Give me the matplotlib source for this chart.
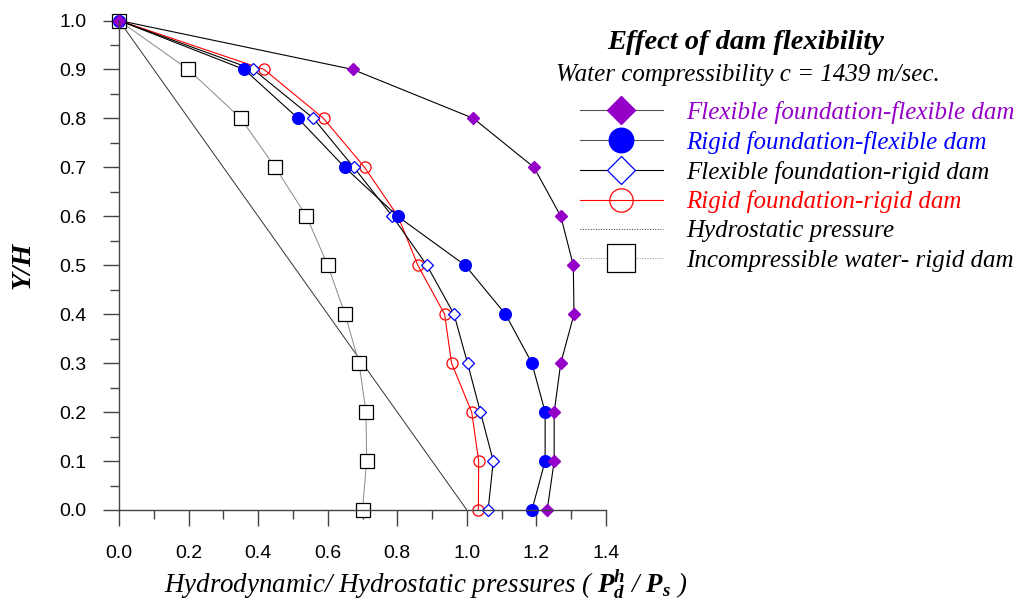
import matplotlib
matplotlib.use('Agg')
import matplotlib.pyplot as plt
from matplotlib.ticker import MultipleLocator

plt.rcParams['mathtext.fontset'] = 'custom'
plt.rcParams['mathtext.it'] = 'Liberation Serif:italic'
plt.rcParams['mathtext.bf'] = 'Liberation Serif:bold:italic'
plt.rcParams['mathtext.rm'] = 'Liberation Serif:italic'

# Y/H levels
y = [1.0, 0.9, 0.8, 0.7, 0.6, 0.5, 0.4, 0.3, 0.2, 0.1, 0.0]

flex_flex = [0.0, 0.672, 1.019, 1.193, 1.270, 1.306, 1.308, 1.270, 1.251, 1.251, 1.231]
rigid_flex = [0.0, 0.360, 0.515, 0.649, 0.801, 0.995, 1.111, 1.187, 1.225, 1.225, 1.187]
flex_rigid = [0.0, 0.386, 0.559, 0.675, 0.786, 0.885, 0.963, 1.002, 1.039, 1.076, 1.061]
rigid_rigid = [0.0, 0.417, 0.588, 0.706, 0.802, 0.859, 0.936, 0.956, 1.014, 1.034, 1.033]
incompressible = [0.0, 0.199, 0.350, 0.449, 0.539, 0.600, 0.650, 0.690, 0.710, 0.712, 0.700]
hydro_x = [0.0, 1.0]
hydro_y = [1.0, 0.0]

purple = '#9400C8'

fig = plt.figure(figsize=(10.29, 6.11), dpi=100)
ax = fig.add_axes([119/1029, 1-510/611, (606-119)/1029, (510-20.5)/611])

l5, = ax.plot(hydro_x, hydro_y, color='#333333', lw=0.7, clip_on=False,
              label='Hydrostatic pressure')
l6, = ax.plot(incompressible, y, color='#888888', lw=0.7, marker='s', ms=9.6,
              mfc='white', mec='black', mew=0.9, clip_on=False,
              label='Incompressible water- rigid dam')
l4, = ax.plot(rigid_rigid, y, color='red', lw=0.8, marker='o', ms=8.0,
              mfc='none', mec='red', mew=0.9, clip_on=False,
              label='Rigid foundation-rigid dam')
l3, = ax.plot(flex_rigid, y, color='black', lw=0.8, marker='D', ms=6.6,
              mfc='white', mec='blue', mew=0.9, clip_on=False,
              label='Flexible foundation-rigid dam')
l2, = ax.plot(rigid_flex, y, color='black', lw=0.8, marker='o', ms=8.4,
              mfc='blue', mec='blue', clip_on=False,
              label='Rigid foundation-flexible dam')
l1, = ax.plot(flex_flex, y, color='black', lw=0.8, marker='D', ms=6.6,
              mfc=purple, mec=purple, clip_on=False,
              label='Flexible foundation-flexible dam')

ax.set_xlim(0, 1.4)
ax.set_ylim(0, 1.0)
ax.spines['top'].set_visible(False)
ax.spines['right'].set_visible(False)
for s in ['left', 'bottom']:
    ax.spines[s].set_color('#444444')
    ax.spines[s].set_linewidth(1.0)
ax.xaxis.set_major_locator(MultipleLocator(0.2))
ax.xaxis.set_minor_locator(MultipleLocator(0.1))
ax.yaxis.set_major_locator(MultipleLocator(0.1))
ax.yaxis.set_minor_locator(MultipleLocator(0.05))
ax.tick_params(which='major', direction='out', length=11.5, width=1.0, color='#444444',
               labelsize=14, pad=14)
ax.tick_params(which='minor', direction='out', length=6.5, width=1.0, color='#444444')
ax.tick_params(axis='y', pad=12)
ax.xaxis.set_major_formatter(plt.FuncFormatter(lambda v, p: '%.1f' % v))
ax.yaxis.set_major_formatter(plt.FuncFormatter(lambda v, p: '%.1f' % v))
for lab in ax.get_xticklabels() + ax.get_yticklabels():
    lab.set_family('Liberation Sans')

ax.set_ylabel('Y/H', family='Liberation Serif', style='italic', weight='bold',
              fontsize=20.5, labelpad=17)
fig.text(426/1029, 1-584/611,
         r'Hydrodynamic/ Hydrostatic pressures ( $\mathbf{P_d^h}$ / $\mathbf{P_s}$ )',
         family='Liberation Serif', style='italic', fontsize=19.4, ha='center', va='center')

fig.text(0.7245, 0.930, 'Effect of dam flexibility', family='Liberation Serif',
         style='italic', weight='bold', fontsize=20.5, ha='center', va='center')
fig.text(0.7265, 0.878, 'Water compressibility c = 1439 m/sec.', family='Liberation Serif',
         style='italic', fontsize=18, ha='center', va='center')

leg = ax.legend(handles=[l1, l2, l3, l4, l5, l6], loc='upper left',
                bbox_to_anchor=(580/1029, 1-101/611), bbox_transform=fig.transFigure,
                frameon=False, markerscale=2.1, handlelength=3.3, handletextpad=0.96,
                labelspacing=0.27, borderpad=0, borderaxespad=0,
                prop={'family': 'Liberation Serif', 'style': 'italic', 'size': 18})
colors = [purple, 'blue', 'black', 'red', 'black', 'black']
for t, c in zip(leg.get_texts(), colors):
    t.set_color(c)
leg_lines = leg.get_lines()
leg_lines[0].set_color('#555555')
leg_lines[1].set_color('#555555')
leg_lines[4].set_linestyle(':')
leg_lines[5].set_linestyle(':')

fig.savefig('out.png', dpi=100)
